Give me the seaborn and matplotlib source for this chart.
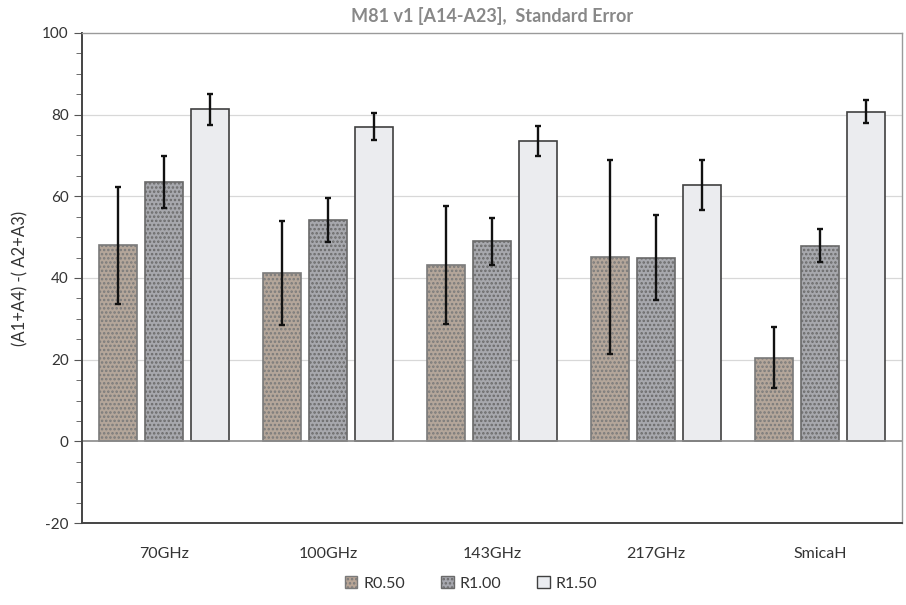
import numpy as np
import pandas as pd
import matplotlib
matplotlib.use("Agg")
import matplotlib.pyplot as plt
from matplotlib.ticker import MultipleLocator
from matplotlib.patches import Patch
import seaborn as sns

# ── data ─────────────────────────────────────────────────
bands  = ["70GHz", "100GHz", "143GHz", "217GHz", "SmicaH"]
series = ["R0.50", "R1.00", "R1.50"]
r050     = [48.0, 41.3, 43.2, 45.2, 20.5]
r050_err = [14.4, 12.7, 14.4, 23.8, 7.5]
r100     = [63.5, 54.2, 49.0, 45.0, 47.9]
r100_err = [6.3, 5.5, 5.8, 10.5, 4.0]
r150     = [81.3, 77.0, 73.6, 62.8, 80.7]
r150_err = [3.8, 3.3, 3.7, 6.2, 2.8]

df = pd.DataFrame({
    "band":   bands * 3,
    "series": [s for s in series for _ in bands],
    "value":  r050 + r100 + r150,
    "err":    r050_err + r100_err + r150_err,
})

sns.set_style("white")
plt.rcParams["font.family"] = ["Lato", "DejaVu Sans"]
plt.rcParams["axes.unicode_minus"] = False
plt.rcParams["hatch.color"] = "#7e7a78"
plt.rcParams["hatch.linewidth"] = 1.2

fills  = {"R0.50": "#b8a596", "R1.00": "#a6a7ae", "R1.50": "#eaecf0"}
hatchs = {"R0.50": "....", "R1.00": "....", "R1.50": ""}
edges  = {"R0.50": "#7a7a7a", "R1.00": "#6a6a6a", "R1.50": "#404040"}

fig = plt.figure(figsize=(9.06, 6.05), dpi=100)
ax = fig.add_axes([0.0905, 0.1355, 0.905, 0.81])

sns.barplot(data=df, x="band", y="value", hue="series", order=bands,
            hue_order=series, palette=fills, errorbar=None, width=0.84,
            gap=0.17, linewidth=1.2, legend=False, ax=ax)

# hatching, edges + error bars from the drawn bars
for cont, s in zip(ax.containers, series):
    sub = df[df["series"] == s].set_index("band").loc[bands]
    xs = []
    for bar in cont:
        bar.set_hatch(hatchs[s])
        bar.set_edgecolor(edges[s])
        xs.append(bar.get_x() + bar.get_width() / 2)
    ax.errorbar(xs, sub["value"], yerr=sub["err"], fmt="none",
                ecolor="#111111", elinewidth=1.7, capsize=2.5, capthick=1.7,
                zorder=5)

ax.set_xlim(-0.5, 4.5)
ax.set_ylim(-20, 100)
ax.yaxis.set_major_locator(MultipleLocator(20))
ax.yaxis.set_minor_locator(MultipleLocator(5))
ax.tick_params(axis="y", which="both", direction="out", left=True,
               length=4, color="#555555", labelsize=11, labelcolor="#333333")
ax.tick_params(axis="y", which="major", length=6)
ax.tick_params(axis="x", bottom=False, labelsize=11.5, labelcolor="#333333",
               pad=14)
for y in [20, 40, 60, 80]:
    ax.axhline(y, color="#d8d8d8", lw=0.9, zorder=0)
ax.axhline(0, color="#8a8a8a", lw=1.2, zorder=1)
for side in ["left", "bottom"]:
    ax.spines[side].set_color("#444444")
    ax.spines[side].set_linewidth(1.4)
for side in ["top", "right"]:
    ax.spines[side].set_color("#9a9a9a")
    ax.spines[side].set_linewidth(1.0)

ax.set_xlabel("")
ax.set_ylabel("(A1+A4) -( A2+A3)", fontsize=12, color="#333333", labelpad=10)
ax.set_title("M81 v1 [A14-A23],  Standard Error", fontsize=13,
             fontweight="bold", color="#888888", pad=8)

handles = [Patch(facecolor=fills[s], edgecolor=edges[s], hatch=hatchs[s],
                 label=s) for s in series]
fig.legend(handles=handles, loc="lower center", ncol=3, frameon=False,
           bbox_to_anchor=(0.52, 0.0), fontsize=11.5, handlelength=0.8,
           handleheight=0.8, columnspacing=2.2, handletextpad=0.4,
           labelcolor="#333333")

fig.savefig("out.png", dpi=100)
